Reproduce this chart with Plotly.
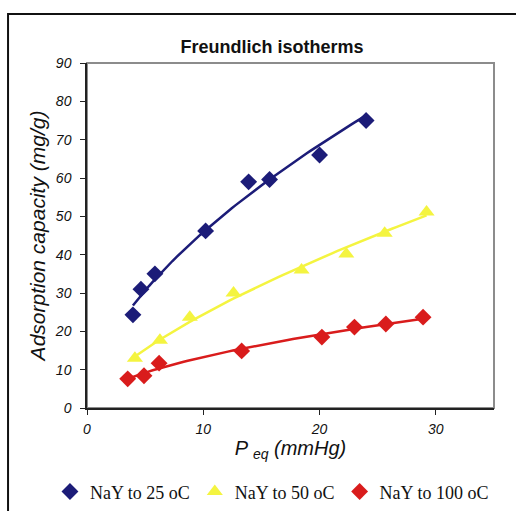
import numpy as np
import plotly.graph_objects as go

# ---- data ----
p_25 = [3.95, 4.64, 5.84, 10.2, 13.9, 15.7, 20.0, 24.0]
q_25 = [24.3, 31.0, 35.0, 46.2, 59.0, 59.6, 66.0, 75.0]

p_50 = [4.12, 6.27, 8.84, 12.6, 18.45, 22.3, 25.6, 29.2]
q_50 = [13.0, 17.7, 23.7, 30.0, 36.0, 40.2, 45.6, 51.1]

p_100 = [3.5, 4.9, 6.2, 13.3, 20.2, 23.0, 25.7, 28.9]
q_100 = [7.6, 8.4, 11.7, 14.9, 18.5, 21.1, 21.9, 23.7]

series_names = ["NaY to 25 oC", "NaY to 50 oC", "NaY to 100 oC"]
series_colors = ["#1c1c78", "#f4f440", "#d91c1c"]
series_symbols = ["diamond", "triangle-up", "diamond"]

x_ticks = [0, 10, 20, 30]
y_ticks = [0, 10, 20, 30, 40, 50, 60, 70, 80, 90]

fig = go.Figure()

datasets = [(p_25, q_25), (p_50, q_50), (p_100, q_100)]

# Freundlich (power) trendlines fitted to each series, as Excel does
for (px, qy), color in zip(datasets, series_colors):
    xa = np.array(px)
    ya = np.array(qy)
    b, lnk = np.polyfit(np.log(xa), np.log(ya), 1)
    xf = np.linspace(xa.min(), xa.max(), 60)
    yf = np.exp(lnk) * xf ** b
    fig.add_trace(go.Scatter(x=xf, y=yf, mode="lines",
                             line=dict(color=color, width=2.5),
                             showlegend=False, hoverinfo="skip"))

for (px, qy), name, color, sym in zip(datasets, series_names, series_colors, series_symbols):
    fig.add_trace(go.Scatter(x=px, y=qy, mode="markers", name=name,
                             marker=dict(symbol=sym, size=13 if sym == "diamond" else 14,
                                         color=color, line=dict(width=0))))

axis_font = dict(family="Liberation Sans, Arial", size=14, color="#111", style="italic")

fig.update_layout(
    width=516, height=511,
    margin=dict(l=87, r=22, t=63, b=103, autoexpand=False),
    paper_bgcolor="white", plot_bgcolor="white",
    title=dict(text="<b>Freundlich isotherms</b>", x=0.527, xref="container", xanchor="center",
               y=0.908, yref="container", yanchor="middle",
               font=dict(family="Liberation Sans, Arial", size=18, color="#111")),
    xaxis=dict(range=[0, 35], tickvals=x_ticks, showgrid=False, zeroline=False,
               showline=True, linecolor="#222", linewidth=1.5,
               ticks="outside", ticklen=5, tickcolor="#222", tickwidth=1.2,
               tickfont=axis_font, ticklabelstandoff=2,
               title=dict(text="P <sub>eq</sub> (mmHg)", standoff=2,
                          font=dict(family="Liberation Sans, Arial", size=20, color="#111",
                                    style="italic"))),
    yaxis=dict(range=[0, 90], tickvals=y_ticks, showgrid=False, zeroline=False,
               showline=True, linecolor="#222", linewidth=1.5,
               ticks="outside", ticklen=5, tickcolor="#222", tickwidth=1.2,
               tickfont=axis_font, ticklabelstandoff=6,
               title=dict(text="Adsorption capacity (mg/g)", standoff=4,
                          font=dict(family="Liberation Sans, Arial", size=21, color="#111",
                                    style="italic"))),
    legend=dict(orientation="h", x=-0.091, xanchor="left", y=-0.243, yanchor="middle",
                font=dict(family="Liberation Serif, Times New Roman", size=18, color="#111"),
                itemwidth=30, traceorder="normal", bgcolor="rgba(0,0,0,0)"),
    shapes=[
        # gray plot-area frame
        dict(type="rect", xref="paper", yref="paper", x0=0, y0=0, x1=1, y1=1,
             line=dict(color="#8c8c8c", width=2), layer="below"),
        # black outer chart border
        dict(type="rect", xref="paper", yref="paper", x0=-0.194, y0=-0.45, x1=1.2, y1=1.142,
             line=dict(color="#111", width=2), layer="below"),
    ],
)

fig.write_html("out.html")
